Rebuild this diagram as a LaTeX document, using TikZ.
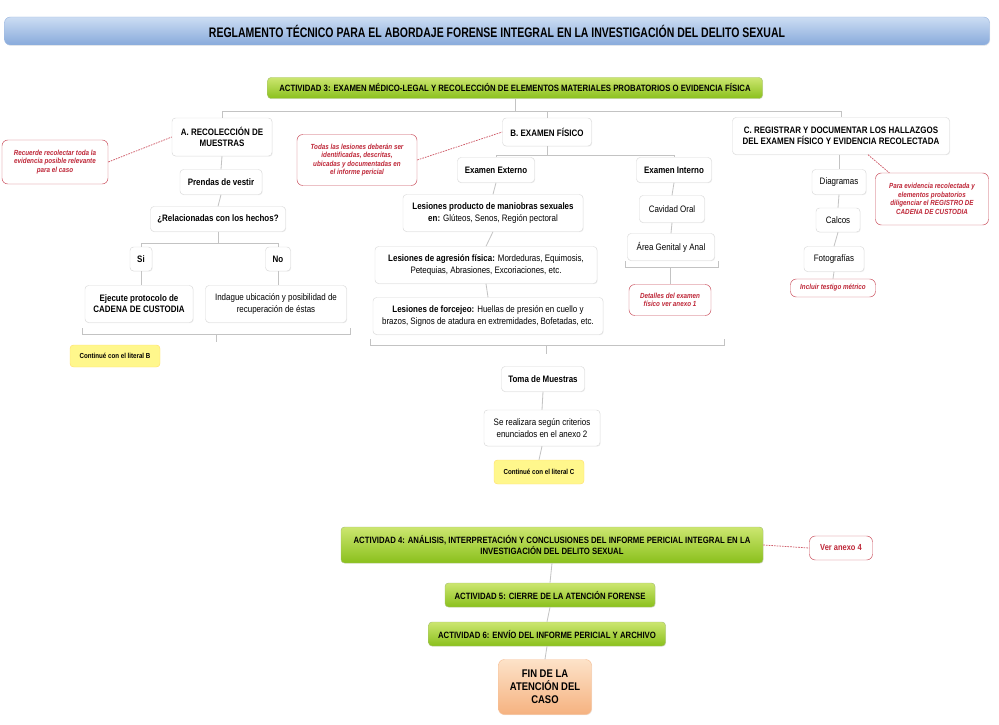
\documentclass[tikz,border=0pt]{standalone}
\usepackage{fontspec}
\setmainfont{Liberation Sans}[FakeStretch=0.85]
\newfontfamily\titlefont{Liberation Sans}[FakeStretch=0.76]
\usetikzlibrary{shadows}

\definecolor{notered}{RGB}{190,38,55}
\definecolor{linkgray}{RGB}{195,195,195}
\definecolor{grtop}{RGB}{204,230,112}
\definecolor{grbot}{RGB}{138,192,28}
\definecolor{bltop}{RGB}{204,221,243}
\definecolor{blbot}{RGB}{136,170,219}
\definecolor{ortop}{RGB}{253,226,200}
\definecolor{orbot}{RGB}{245,178,128}
\definecolor{litfill}{RGB}{255,247,140}

\tikzset{
    wh/.style 2 args={minimum width=#1*0.3mm,minimum height=#2*0.3mm},
    box/.style={draw=gray!30,fill=white,rounded corners=3pt,inner sep=1pt,
        drop shadow={opacity=0.12,shadow xshift=0.6pt,shadow yshift=-0.6pt}},
    actbox/.style={draw=grbot!80!black!60,top color=grtop,bottom color=grbot,
        rounded corners=3pt,inner sep=1pt,font=\bfseries\fontsize{7.8}{9}\selectfont,
        drop shadow={opacity=0.15,shadow xshift=0.6pt,shadow yshift=-0.6pt}},
    note/.style={draw=notered!80,fill=white,rounded corners=5pt,inner sep=1pt,
        text=notered,font=\bfseries\itshape\fontsize{6.3}{7.3}\selectfont},
    litbox/.style={fill=litfill,draw=litfill!80!orange,rounded corners=3pt,inner sep=1pt,
        font=\bfseries\fontsize{6.2}{7}\selectfont},
    link/.style={draw=linkgray,line width=0.7pt},
    tie/.style={draw=notered!75,line width=0.65pt,dash pattern=on 1.4pt off 0.9pt},
}

\begin{document}
\begin{tikzpicture}[x=0.3mm,y=-0.3mm,
    every node/.style={align=center,font=\fontsize{8}{9.6}\selectfont}]
    \useasboundingbox (0,0) rectangle (999,725);

    % title bar
    \node[wh={985}{28},rounded corners=5pt,draw=blbot!80,top color=bltop,bottom color=blbot,
          drop shadow={opacity=0.15,shadow xshift=0.6pt,shadow yshift=-0.8pt},
          font=\titlefont\bfseries\fontsize{11.8}{13}\selectfont] (title) at (497,31)
        {REGLAMENTO TÉCNICO PARA EL ABORDAJE FORENSE INTEGRAL EN LA INVESTIGACIÓN DEL DELITO SEXUAL};

    % actividad 3
    \node[actbox,wh={495}{21}] (act3) at (515,88)
        {ACTIVIDAD 3: EXAMEN MÉDICO-LEGAL Y RECOLECCIÓN DE ELEMENTOS MATERIALES PROBATORIOS O EVIDENCIA FÍSICA};

    % A. recoleccion
    \node[box,wh={100}{38},font=\bfseries\fontsize{8}{9.6}\selectfont] (recA) at (222,137) {A. RECOLECCIÓN DE\\MUESTRAS};
    \node[note,wh={106}{44}] (noteA) at (55,162) {Recuerde recolectar toda la\\evidencia posible relevante\\para el caso};
    \node[box,wh={82}{25},font=\bfseries\fontsize{8}{9.6}\selectfont] (prendas) at (221,182) {Prendas de vestir};
    \node[box,wh={135}{25},font=\bfseries\fontsize{8}{9.6}\selectfont] (relac) at (218,219) {¿Relacionadas con los hechos?};
    \node[box,wh={22}{24},font=\bfseries\fontsize{8}{9.6}\selectfont] (si) at (141,259) {Si};
    \node[box,wh={25}{24},font=\bfseries\fontsize{8}{9.6}\selectfont] (no) at (278,259) {No};
    \node[box,wh={108}{37},font=\bfseries\fontsize{8}{9.6}\selectfont] (ejecute) at (139,304) {Ejecute protocolo de\\CADENA DE CUSTODIA};
    \node[box,wh={141}{37}] (indague) at (276,304) {Indague ubicación y posibilidad de\\recuperación de éstas};
    \node[litbox,wh={90}{22}] (litB) at (115,356) {Continué con el literal B};

    % B. examen fisico
    \node[box,wh={89}{28},font=\bfseries\fontsize{8}{9.6}\selectfont] (examB) at (547,132) {B. EXAMEN FÍSICO};
    \node[note,wh={120}{51}] (noteB) at (357,160) {Todas las lesiones deberán ser\\identificadas, descritas,\\ubicadas y documentadas en\\el informe pericial};
    \node[box,wh={77}{25},font=\bfseries\fontsize{8}{9.6}\selectfont] (externo) at (496,170) {Examen Externo};
    \node[box,wh={75}{25},font=\bfseries\fontsize{8}{9.6}\selectfont] (interno) at (674,170) {Examen Interno};
    \node[box,wh={180}{37}] (maniobras) at (493,213) {\textbf{Lesiones producto de maniobras sexuales}\\\textbf{en:} Glúteos, Senos, Región pectoral};
    \node[box,wh={222}{37}] (agresion) at (486,265) {\textbf{Lesiones de agresión física:} Mordeduras, Equimosis,\\Petequias, Abrasiones, Excoriaciones, etc.};
    \node[box,wh={230}{37}] (forcejeo) at (488,316) {\textbf{Lesiones de forcejeo:} Huellas de presión en cuello y\\brazos, Signos de atadura en extremidades, Bofetadas, etc.};
    \node[box,wh={65}{27}] (oral) at (672,209) {Cavidad Oral};
    \node[box,wh={87}{27}] (genital) at (671,247) {Área Genital y Anal};
    \node[note,wh={82}{31}] (detalles) at (670,300) {Detalles del examen\\físico ver anexo 1};
    \node[box,wh={83}{25},font=\bfseries\fontsize{8}{9.6}\selectfont] (toma) at (543,379) {Toma de Muestras};
    \node[box,wh={116}{36}] (criterios) at (542,428) {Se realizara según criterios\\enunciados en el anexo 2};
    \node[litbox,wh={90}{24}] (litC) at (539,472) {Continué con el literal C};

    % C. registrar
    \node[box,wh={217}{37},font=\bfseries\fontsize{8}{9.6}\selectfont] (regC) at (841,136) {C. REGISTRAR Y DOCUMENTAR LOS HALLAZGOS\\DEL EXAMEN FÍSICO Y EVIDENCIA RECOLECTADA};
    \node[box,wh={54}{25}] (diagramas) at (839,182) {Diagramas};
    \node[box,wh={44}{24}] (calcos) at (838,220) {Calcos};
    \node[box,wh={60}{25}] (fotos) at (834,259) {Fotografías};
    \node[note,wh={113}{52}] (noteC) at (932,199) {Para evidencia recolectada y\\elementos probatorios\\diligenciar el REGISTRO DE\\CADENA DE CUSTODIA};
    \node[note,wh={85}{18}] (testigo) at (833,288) {Incluir testigo métrico};

    % actividades 4 a 6
    \node[actbox,wh={422}{36}] (act4) at (552,545) {ACTIVIDAD 4: ANÁLISIS, INTERPRETACIÓN Y CONCLUSIONES DEL INFORME PERICIAL INTEGRAL EN LA\\INVESTIGACIÓN DEL DELITO SEXUAL};
    \node[note,wh={63}{24},font=\bfseries\fontsize{7.5}{9}\selectfont] (anexo4) at (841,548) {Ver anexo 4};
    \node[actbox,wh={210}{24}] (act5) at (550,595) {ACTIVIDAD 5: CIERRE DE LA ATENCIÓN FORENSE};
    \node[actbox,wh={237}{24}] (act6) at (547,634) {ACTIVIDAD 6: ENVÍO DEL INFORME PERICIAL Y ARCHIVO};
    \node[wh={93}{55},rounded corners=5pt,draw=orbot!80,top color=ortop,bottom color=orbot,
          drop shadow={opacity=0.12,shadow xshift=0.6pt,shadow yshift=-0.6pt},
          font=\bfseries\fontsize{9.5}{11}\selectfont] (fin) at (545,687) {FIN DE LA\\ATENCIÓN DEL\\CASO};

    %branches of actividad 3
    \draw[link] (act3.south) -- ++(0,13) -| (recA.north);
    \draw[link] (act3.south) -- ++(0,13) -| (examB.north);
    \draw[link] (act3.south) -- ++(0,13) -| (regC.north);

    %A branch
    \draw[link] (recA.south) -- (prendas.north);
    \draw[link] (prendas.south) -- (relac.north);
    \draw[link] (relac.south) -- ++(0,12) -| (si.north);
    \draw[link] (relac.south) -- ++(0,12) -| (no.north);
    \draw[link] (si.south) -- (ejecute.north -| si.south);
    \draw[link] (no.south) -- (indague.north -| no.south);
    \coordinate (brA) at (216,342);
    \draw[link] (82,328) -- (82,334) -- (350,334) -- (350,328);
    \draw[link] (brA |- 0,334) -- (brA);

    %B branch
    \draw[link] (examB.south) -- ++(0,9) -| (externo.north);
    \draw[link] (examB.south) -- ++(0,9) -| (interno.north);
    \draw[link] (externo.south) -- (maniobras.north);
    \draw[link] (maniobras.south) -- (agresion.north);
    \draw[link] (agresion.south) -- (forcejeo.north);
    \draw[link] (interno.south) -- (oral.north);
    \draw[link] (oral.south) -- (genital.north);
    \draw[link] (625,261) -- (625,267) -- (718,267) -- (718,261);
    \draw[link] (detalles.north |- 0,267) -- (detalles.north);
    \coordinate (brB) at (546,354);
    \draw[link] (370,339) -- (370,345) -- (724,345) -- (724,339);
    \draw[link] (brB |- 0,345) -- (brB);
    \draw[link] (toma.south) -- (criterios.north);
    \draw[link] (criterios.south) -- (litC.north);

    %C branch
    \draw[link] (regC.south -| diagramas.north) -- (diagramas.north);
    \draw[link] (diagramas.south) -- (calcos.north);
    \draw[link] (calcos.south) -- (fotos.north);
    \draw[link] (fotos.south) -- (testigo.north);

    %red dashed ties to the notes
    \draw[tie] (noteA.east) -- (recA.west);
    \draw[tie] (noteB.east) -- (examB.west);
    \draw[tie] ([xshift=8.1mm]regC.south) -- ([xshift=4.2mm]noteC.north west);
    \draw[tie] (act4.east) -- (anexo4.west);

    %closing activities
    \draw[link] (act4.south) -- (act5.north);
    \draw[link] (act5.south) -- (act6.north);
    \draw[link] (act6.south) -- (fin.north);
\end{tikzpicture}
\end{document}
